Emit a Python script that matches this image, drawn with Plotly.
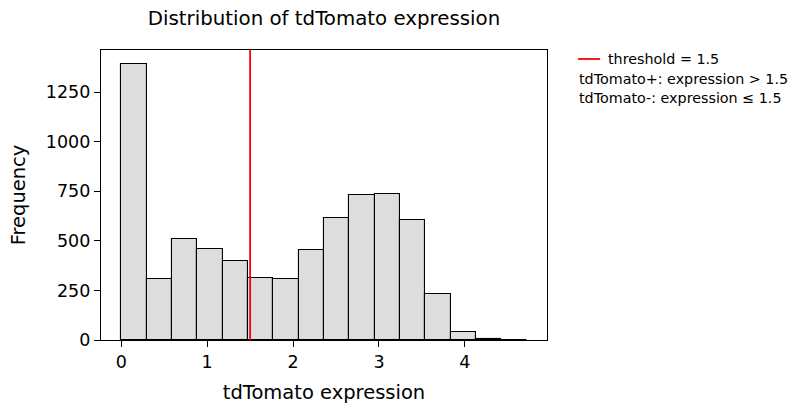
import plotly.graph_objects as go

# ---- data ----
bin_start = 0.0
bin_width = 0.295
counts = [1393, 310, 510, 458, 399, 315, 310, 456, 616, 731, 734, 603, 232, 40, 3, 2]
threshold = 1.5
x_ticks = [0, 1, 2, 3, 4]
y_ticks = [0, 250, 500, 750, 1000, 1250]
legend_lines = ["tdTomato+: expression > 1.5", "tdTomato-: expression \u2264 1.5"]

centers = [bin_start + bin_width * (i + 0.5) for i in range(len(counts))]
x_max = bin_start + bin_width * len(counts)
pad = 0.05 * (x_max - bin_start)
y_top = max(counts) * 1.05

FONT = "DejaVu Sans"
W, H = 794, 414
L, R, T, B = 101, 547, 50, 340

fig = go.Figure()
fig.add_trace(go.Bar(
    x=centers, y=counts, width=[bin_width] * len(counts),
    marker=dict(color="#dddddd", line=dict(color="black", width=1.1)),
    showlegend=False, hoverinfo="x+y",
))

# threshold vertical line spanning the axes
fig.add_shape(type="line", xref="x", yref="y domain", x0=threshold, x1=threshold,
              y0=0, y1=1, line=dict(color="#ff0000", width=1.8))

def px_x(p):
    return (p - L) / (R - L)

def px_y(p):
    return (B - p) / (B - T)

# legend-like block
fig.add_shape(type="line", xref="paper", yref="paper",
              x0=px_x(578), x1=px_x(600), y0=px_y(59), y1=px_y(59),
              line=dict(color="#ff0000", width=1.8))
fig.add_annotation(text=f"threshold = {threshold}", xref="paper", yref="paper",
                   x=px_x(606), y=px_y(59), xanchor="left", yanchor="middle",
                   showarrow=False, font=dict(family=FONT, size=14.3, color="black"))
for i, t in enumerate(legend_lines):
    fig.add_annotation(text=t, xref="paper", yref="paper",
                       x=px_x(577), y=px_y(78.5 + 19.5 * i), xanchor="left", yanchor="middle",
                       showarrow=False, font=dict(family=FONT, size=14.3, color="black"))

fig.update_layout(
    width=W, height=H,
    margin=dict(l=L, r=W - R, t=T, b=H - B, pad=0, autoexpand=False),
    paper_bgcolor="white", plot_bgcolor="white",
    bargap=0,
    font=dict(family=FONT, color="black"),
    title=dict(text="Distribution of tdTomato expression", x=0.5, xref="paper",
               y=1 - 18 / H, yref="container", xanchor="center", yanchor="middle",
               font=dict(family=FONT, size=19.8, color="black")),
    showlegend=False,
)
fig.update_xaxes(
    range=[bin_start - pad, x_max + pad],
    tickvals=x_ticks, ticktext=[str(v) for v in x_ticks],
    ticks="outside", ticklen=6, tickwidth=1.3, tickcolor="black",
    showline=True, linecolor="black", linewidth=1.3, mirror=True,
    showgrid=False, zeroline=False, automargin=False,
    tickfont=dict(family=FONT, size=17.5, color="black"),
    title=dict(text="tdTomato expression", font=dict(family=FONT, size=19.5, color="black"), standoff=14),
)
fig.update_yaxes(
    range=[0, y_top],
    tickvals=y_ticks, ticktext=[str(v) for v in y_ticks],
    ticks="outside", ticklen=6, tickwidth=1.3, tickcolor="black",
    showline=True, linecolor="black", linewidth=1.3, mirror=True,
    showgrid=False, zeroline=False, automargin=False,
    tickfont=dict(family=FONT, size=17.5, color="black"),
    title=dict(text="Frequency", font=dict(family=FONT, size=19.5, color="black"), standoff=14),
)

fig.write_html("out.html", config={"displayModeBar": False},
               post_script="document.body.style.margin='0';")
